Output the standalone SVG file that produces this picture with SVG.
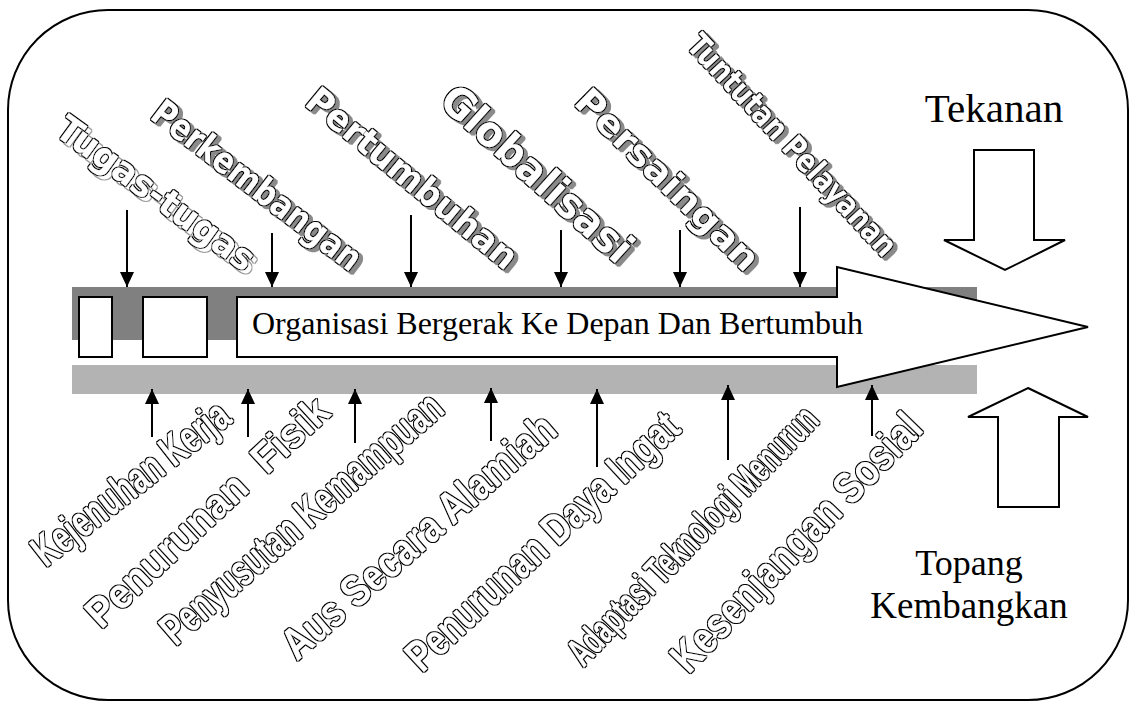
<svg xmlns="http://www.w3.org/2000/svg" width="1132" height="704" viewBox="0 0 1132 704">
<defs>
<style>
.wa{font-family:"DejaVu Sans",Verdana,sans-serif;font-weight:bold;fill:#000}
.wb{font-family:"Liberation Sans",Arial,sans-serif;font-weight:bold;fill:#000}
.serif{font-family:"Liberation Serif","Times New Roman",serif;fill:#000}
.conn{stroke:#000;stroke-width:2;fill:none}
.shape{fill:#fff;stroke:#000;stroke-width:2}
.outl{filter:url(#ol)}
.shadow{filter:url(#sh)}
.shadow2{filter:url(#sh2)}
</style>
<filter id="ol" x="-10%" y="-10%" width="120%" height="120%">
<feMorphology in="SourceAlpha" operator="dilate" radius="1.4" result="big"/>
<feMorphology in="SourceAlpha" operator="erode" radius="0.2" result="body"/>
<feFlood flood-color="#000"/><feComposite in2="big" operator="in" result="k"/>
<feFlood flood-color="#fff"/><feComposite in2="body" operator="in" result="w"/>
<feMerge><feMergeNode in="k"/><feMergeNode in="w"/></feMerge>
</filter>
<filter id="sh" x="-10%" y="-10%" width="120%" height="120%">
<feMorphology in="SourceAlpha" operator="dilate" radius="1.4" result="big"/>
<feMorphology in="SourceAlpha" operator="erode" radius="0.2" result="body"/>
<feOffset in="big" dx="4" dy="3" result="ob"/>
<feFlood flood-color="#8a8a8a"/><feComposite in2="ob" operator="in" result="s"/>
<feFlood flood-color="#000"/><feComposite in2="big" operator="in" result="k"/>
<feFlood flood-color="#fff"/><feComposite in2="body" operator="in" result="w"/>
<feMerge><feMergeNode in="s"/><feMergeNode in="k"/><feMergeNode in="w"/></feMerge>
</filter>
<filter id="sh2" x="-10%" y="-10%" width="120%" height="120%">
<feMorphology in="SourceAlpha" operator="dilate" radius="1.4" result="big"/>
<feMorphology in="SourceAlpha" operator="erode" radius="0.2" result="body"/>
<feOffset in="big" dx="4" dy="4" result="ob"/>
<feOffset in="body" dx="4" dy="4" result="ow"/>
<feFlood flood-color="#9a9a9a"/><feComposite in2="ob" operator="in" result="sk"/>
<feFlood flood-color="#fff"/><feComposite in2="ow" operator="in" result="sw"/>
<feFlood flood-color="#000"/><feComposite in2="big" operator="in" result="k"/>
<feFlood flood-color="#fff"/><feComposite in2="body" operator="in" result="w"/>
<feMerge><feMergeNode in="sk"/><feMergeNode in="sw"/><feMergeNode in="k"/><feMergeNode in="w"/></feMerge>
</filter>
<marker id="ah" markerUnits="userSpaceOnUse" markerWidth="16" markerHeight="16" refX="15" refY="7" orient="auto">
<path d="M0,0 L15,7 L0,14 Z" fill="#000"/>
</marker>
</defs>
<rect id="frame" x="8" y="10" width="1120" height="690" rx="100" ry="100" fill="#fff" stroke="#000" stroke-width="2"/>
<g id="bars">
<rect x="72" y="287" width="905" height="53" fill="#808080"/>
<rect x="72" y="365" width="905" height="29" fill="#b3b3b3"/>
</g>
<g id="box1"><rect x="79" y="297" width="33" height="60" class="shape"/></g>
<g id="box2"><rect x="143" y="297" width="64" height="60" class="shape"/></g>
<g id="main-arrow">
<path d="M237,297 L837,297 L837,267 L1088,327 L837,387 L837,357 L237,357 Z" class="shape"/>
<text x="252" y="334" class="serif" font-size="32">Organisasi Bergerak Ke Depan Dan Bertumbuh</text>
</g>
<g id="tekanan">
<text x="994" y="122" class="serif" font-size="41" text-anchor="middle">Tekanan</text>
<path d="M974,150 L1034,150 L1034,240 L1065,240 L1005,270 L944,240 L974,240 Z" class="shape"/>
</g>
<g id="topang">
<path d="M1028,388 L1088,417 L1059,417 L1059,507 L998,507 L998,417 L968,417 Z" class="shape"/>
<text x="969" y="575" class="serif" font-size="36" text-anchor="middle">Topang</text>
<text x="969" y="618" class="serif" font-size="37" text-anchor="middle">Kembangkan</text>
</g>
<g id="connectors">
<line x1="127" y1="210" x2="127" y2="287" class="conn" marker-end="url(#ah)"/>
<line x1="272" y1="233" x2="272" y2="287" class="conn" marker-end="url(#ah)"/>
<line x1="411" y1="215" x2="411" y2="287" class="conn" marker-end="url(#ah)"/>
<line x1="561" y1="230" x2="561" y2="287" class="conn" marker-end="url(#ah)"/>
<line x1="680" y1="230" x2="680" y2="287" class="conn" marker-end="url(#ah)"/>
<line x1="800" y1="207" x2="800" y2="287" class="conn" marker-end="url(#ah)"/>
<line x1="152" y1="437" x2="152" y2="389" class="conn" marker-end="url(#ah)"/>
<line x1="248" y1="437" x2="248" y2="389" class="conn" marker-end="url(#ah)"/>
<line x1="355" y1="443" x2="355" y2="389" class="conn" marker-end="url(#ah)"/>
<line x1="491" y1="441" x2="491" y2="388" class="conn" marker-end="url(#ah)"/>
<line x1="597" y1="467" x2="597" y2="389" class="conn" marker-end="url(#ah)"/>
<line x1="728" y1="460" x2="728" y2="385" class="conn" marker-end="url(#ah)"/>
<line x1="872" y1="436" x2="872" y2="385" class="conn" marker-end="url(#ah)"/>
</g>
<g id="t-tugas" class="shadow2">
<text class="wa" font-size="36" transform="translate(154,196) rotate(36)" x="0" y="9" text-anchor="middle" textLength="236" lengthAdjust="spacingAndGlyphs">Tugas-tugas</text>
</g>
<g id="t-perkembangan" class="shadow">
<text class="wa" font-size="36" transform="translate(255,188) rotate(37.5)" x="0" y="9" text-anchor="middle" textLength="254" lengthAdjust="spacingAndGlyphs">Perkembangan</text>
</g>
<g id="t-pertumbuhan" class="shadow">
<text class="wa" font-size="36" transform="translate(410,181) rotate(39.5)" x="0" y="9" text-anchor="middle" textLength="262" lengthAdjust="spacingAndGlyphs">Pertumbuhan</text>
</g>
<g id="t-globalisasi" class="shadow">
<text class="wa" font-size="42" transform="translate(534,177) rotate(42)" x="0" y="10" text-anchor="middle" textLength="242" lengthAdjust="spacingAndGlyphs">Globalisasi</text>
</g>
<g id="t-persaingan" class="shadow">
<text class="wa" font-size="36" transform="translate(665,182) rotate(44.5)" x="0" y="9" text-anchor="middle" textLength="242" lengthAdjust="spacingAndGlyphs">Persaingan</text>
</g>
<g id="t-tuntutan" class="shadow">
<text class="wa" font-size="32" transform="translate(790,147) rotate(47)" x="0" y="8" text-anchor="middle" textLength="290" lengthAdjust="spacingAndGlyphs">Tuntutan Pelayanan</text>
</g>
<g id="b-kejenuhan" class="outl">
<text class="wb" font-size="44" transform="translate(133,486) rotate(-38)" x="0" y="11" text-anchor="middle" textLength="238" lengthAdjust="spacingAndGlyphs">Kejenuhan Kerja</text>
</g>
<g id="b-fisik" class="outl">
<text class="wb" font-size="42" transform="translate(210,515) rotate(-43)" x="0" y="10" text-anchor="middle" textLength="316" lengthAdjust="spacingAndGlyphs" xml:space="preserve">Penurunan  Fisik</text>
</g>
<g id="b-penyusutan" class="outl">
<text class="wb" font-size="44" transform="translate(304,521) rotate(-41)" x="0" y="11" text-anchor="middle" textLength="358" lengthAdjust="spacingAndGlyphs">Penyusutan Kemampuan</text>
</g>
<g id="b-aus" class="outl">
<text class="wb" font-size="44" transform="translate(421,539) rotate(-41)" x="0" y="11" text-anchor="middle" textLength="348" lengthAdjust="spacingAndGlyphs">Aus Secara Alamiah</text>
</g>
<g id="b-daya" class="outl">
<text class="wb" font-size="44" transform="translate(545,544) rotate(-43)" x="0" y="11" text-anchor="middle" textLength="356" lengthAdjust="spacingAndGlyphs">Penurunan Daya Ingat</text>
</g>
<g id="b-adaptasi" class="outl">
<text class="wb" font-size="40" transform="translate(695,538) rotate(-46)" x="0" y="10" text-anchor="middle" textLength="342" lengthAdjust="spacingAndGlyphs">Adaptasi Teknologi Menurun</text>
</g>
<g id="b-kesenjangan" class="outl">
<text class="wb" font-size="44" transform="translate(799,545) rotate(-46)" x="0" y="11" text-anchor="middle" textLength="340" lengthAdjust="spacingAndGlyphs">Kesenjangan Sosial</text>
</g>
</svg>
